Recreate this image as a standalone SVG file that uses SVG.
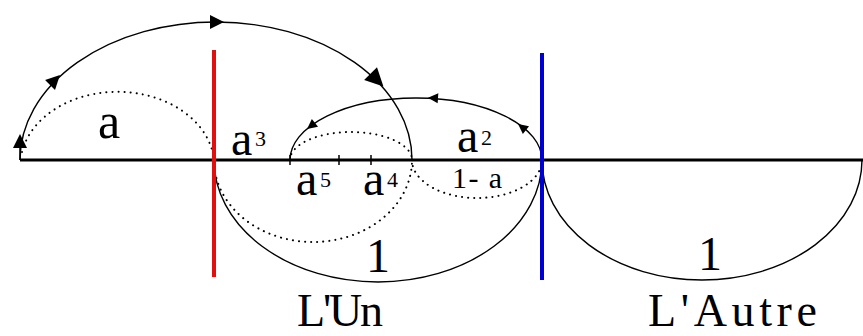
<svg xmlns="http://www.w3.org/2000/svg" xmlns:xlink="http://www.w3.org/1999/xlink" width="863" height="336" viewBox="0 0 863 336">
<style>
.solid{fill:none;stroke:#000;stroke-width:1.4}
.dot{fill:none;stroke:#000;stroke-width:2;stroke-dasharray:0.1 6;stroke-linecap:round}
.t{font-family:"Liberation Serif","Times New Roman",serif;fill:#000}
.axis{stroke:#000;stroke-width:3}
</style>
<defs>
<polygon id="ah" points="7,0 -7,-7 -7,7" fill="#000"/>
<polygon id="ahs" points="5,0 -5,-5 -5,5" fill="#000"/>
</defs>
<rect width="863" height="336" fill="#fff"/>
<g id="axis">
<line class="axis" x1="20" y1="160" x2="863" y2="160"/>
<line x1="20" y1="147" x2="20" y2="160" stroke="#000" stroke-width="1.5"/>
<line x1="339" y1="155" x2="339" y2="165" stroke="#000" stroke-width="1.5"/>
<line x1="371" y1="155" x2="371" y2="165" stroke="#000" stroke-width="1.5"/>
<line x1="290" y1="155" x2="290" y2="165" stroke="#000" stroke-width="1.5"/>
</g>
<g id="connectors">
<path class="solid" d="M20,160 A196,138 0 0 1 412,160"/>
<path class="dot" d="M22,152 A97,74 0 0 1 214,160"/>
<path class="dot" d="M214,160 A99,82 0 0 0 412,160"/>
<path class="solid" d="M290,160 A126,62 0 0 1 542,160"/>
<path class="dot" d="M290,160 A61,28 0 0 1 412,160"/>
<path class="dot" d="M412,160 A65,38 0 0 0 542,160"/>
<path class="solid" d="M214,160 A164,122 0 0 0 542,160"/>
<path class="solid" d="M542,160 A160,120 0 0 0 862,160"/>
<use xlink:href="#ah" transform="translate(20,141) rotate(-90)"/>
<use xlink:href="#ah" transform="translate(55,80) rotate(-45)"/>
<use xlink:href="#ah" transform="translate(217,22) rotate(0)"/>
<use xlink:href="#ah" transform="translate(377,80) rotate(45) scale(1.3)"/>
<use xlink:href="#ahs" transform="translate(522,127) rotate(-142)"/>
<use xlink:href="#ahs" transform="translate(433,98) rotate(-176)"/>
<use xlink:href="#ahs" transform="translate(311,126) rotate(142)"/>
</g>
<g id="red-line"><line x1="214" y1="50" x2="214" y2="277" stroke="#e01010" stroke-width="4"/></g>
<g id="blue-line"><line x1="542" y1="53" x2="542" y2="280" stroke="#0000d0" stroke-width="4"/></g>
<g id="labels">
<text class="t" x="98" y="138" font-size="50">a</text>
<text class="t" x="231" y="155" font-size="48">a</text>
<text class="t" x="255" y="146" font-size="22">3</text>
<text class="t" x="457" y="152" font-size="48">a</text>
<text class="t" x="481" y="145" font-size="22">2</text>
<text class="t" x="296" y="195" font-size="48">a</text>
<text class="t" x="320" y="187" font-size="22">5</text>
<text class="t" x="363" y="195" font-size="48">a</text>
<text class="t" x="387" y="187" font-size="22">4</text>
<text class="t" x="452" y="188" font-size="30" textLength="50">1- a</text>
<text class="t" x="378" y="272" font-size="48" text-anchor="middle">1</text>
<text class="t" x="710" y="270" font-size="48" text-anchor="middle">1</text>
<text class="t" x="297" y="326" font-size="46" textLength="86">L'Un</text>
<text class="t" x="648" y="326" font-size="46" textLength="169">L'Autre</text>
</g>
</svg>
